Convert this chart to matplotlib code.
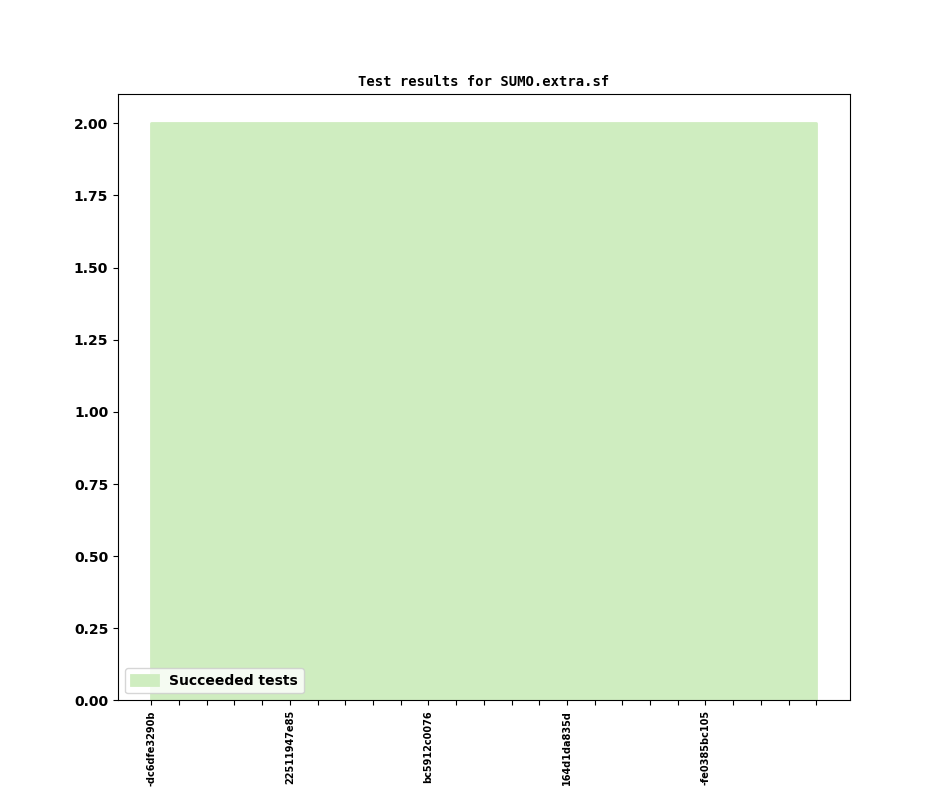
import matplotlib
matplotlib.use('agg')
import matplotlib.pyplot as plt
import numpy as np

# data
commits = ['-dc6dfe3290b', '', '', '', '',
           '22511947e85', '', '', '', '',
           'bc5912c0076', '', '', '', '',
           '164d1da835d', '', '', '', '',
           '-fe0385bc105', '', '', '', '']
succeeded = [2] * 25

x = np.arange(len(commits))

fig = plt.figure(figsize=(9.44, 7.87), dpi=100)
ax = fig.add_subplot(1, 1, 1)
ax.stackplot(x, succeeded, colors=['#cfedc0'], labels=['Succeeded tests'],
             edgecolor='#cfedc0', linewidth=2)
ax.set_xticks(x)
ax.set_xticklabels(commits, rotation=90, fontsize=7, fontweight='bold')
for lab in ax.get_yticklabels():
    lab.set_fontweight('bold')
ax.tick_params(axis='y', labelsize=10)
ax.set_title('Test results for SUMO.extra.sf', fontsize=10, fontweight='bold',
             family='DejaVu Sans Mono')
leg = ax.legend(loc='lower left', prop={'weight': 'bold', 'size': 10})
plt.savefig('out.png', dpi=100)
plt.close('all')
